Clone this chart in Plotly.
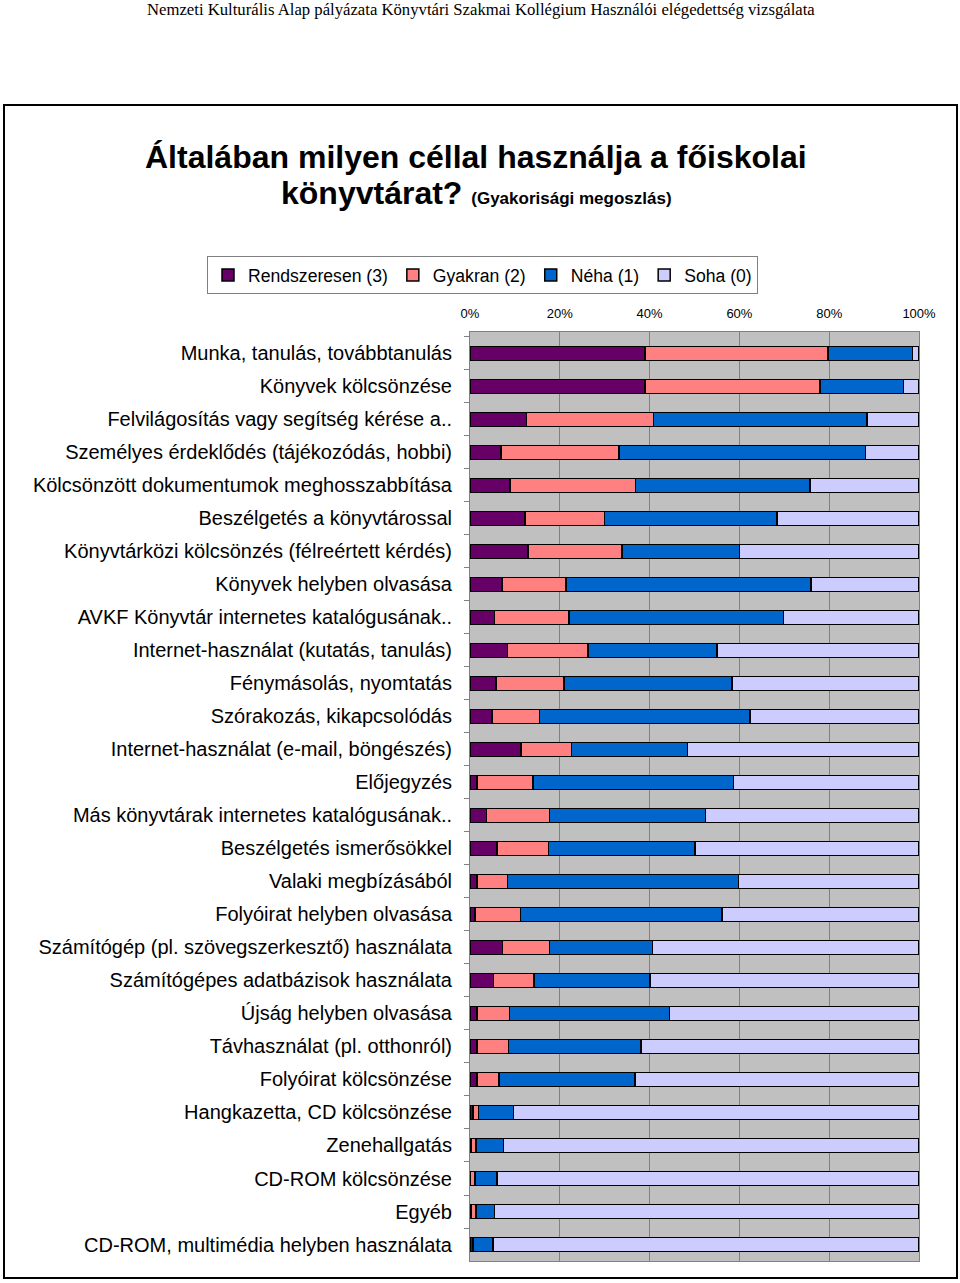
import plotly.graph_objects as go

categories = [
    "Munka, tanulás, továbbtanulás",
    "Könyvek kölcsönzése",
    "Felvilágosítás vagy segítség kérése a..",
    "Személyes érdeklődés (tájékozódás, hobbi)",
    "Kölcsönzött dokumentumok meghosszabbítása",
    "Beszélgetés a könyvtárossal",
    "Könyvtárközi kölcsönzés (félreértett kérdés)",
    "Könyvek helyben olvasása",
    "AVKF Könyvtár internetes katalógusának..",
    "Internet-használat (kutatás, tanulás)",
    "Fénymásolás, nyomtatás",
    "Szórakozás, kikapcsolódás",
    "Internet-használat (e-mail, böngészés)",
    "Előjegyzés",
    "Más könyvtárak internetes katalógusának..",
    "Beszélgetés ismerősökkel",
    "Valaki megbízásából",
    "Folyóirat helyben olvasása",
    "Számítógép (pl. szövegszerkesztő) használata",
    "Számítógépes adatbázisok használata",
    "Újság helyben olvasása",
    "Távhasználat (pl. otthonról)",
    "Folyóirat kölcsönzése",
    "Hangkazetta, CD kölcsönzése",
    "Zenehallgatás",
    "CD-ROM kölcsönzése",
    "Egyéb",
    "CD-ROM, multimédia helyben használata",
]
rendszeresen = [39.0, 39.0, 12.6, 6.9, 8.9, 12.3, 12.9, 7.1, 5.5, 8.3, 5.8, 4.9, 11.4, 1.6,
                3.7, 6.0, 1.6, 1.1, 7.2, 5.2, 1.6, 1.6, 1.6, 0.7, 0.2, 0.1, 0.2, 0.7]
gyakran = [40.7, 39.0, 28.3, 26.3, 28.0, 17.7, 20.9, 14.3, 16.5, 18.0, 15.1, 10.6, 11.2, 12.4,
           14.0, 11.5, 6.7, 10.1, 10.5, 9.1, 7.2, 7.0, 4.9, 1.2, 1.1, 1.0, 1.1, 0.0]
neha = [18.9, 18.6, 47.5, 54.9, 38.8, 38.4, 26.2, 54.6, 47.8, 28.7, 37.4, 46.9, 25.8, 44.7,
        34.7, 32.6, 51.5, 44.9, 23.0, 25.8, 35.6, 29.5, 30.2, 7.8, 6.2, 4.9, 4.2, 4.4]
soha = [1.4, 3.4, 11.6, 11.9, 24.3, 31.6, 40.0, 24.0, 30.2, 45.0, 41.7, 37.6, 51.6, 41.3,
        47.6, 49.9, 40.2, 43.9, 59.3, 59.9, 55.6, 61.9, 63.3, 90.3, 92.5, 94.0, 94.5, 94.9]

series_names = ["Rendszeresen (3)", "Gyakran (2)", "Néha (1)", "Soha (0)"]
series_colors = ["#660066", "#FF8080", "#0066CC", "#CCCCFF"]
x_ticks = [0, 20, 40, 60, 80, 100]

W, H = 960, 1283
L, R, T, B = 470, 919, 332, 1261


def px(x):
    return (x - L) / (R - L)


def py(y):
    return (B - y) / (B - T)


fig = go.Figure()
for name, vals, col in zip(series_names, [rendszeresen, gyakran, neha, soha], series_colors):
    fig.add_trace(go.Bar(
        y=categories, x=vals, name=name, orientation="h",
        marker=dict(color=col, line=dict(color="#000000", width=1.5)),
        width=0.43,
    ))

fig.update_layout(
    width=W, height=H,
    margin=dict(l=L, r=W - R, t=T, b=H - B, pad=0),
    barmode="stack", barnorm="percent",
    paper_bgcolor="white", plot_bgcolor="#C0C0C0",
    font=dict(family="Liberation Sans, Arial, sans-serif", color="#000000"),
    showlegend=True,
    legend=dict(
        orientation="h", x=px(207), y=py(256), xanchor="left", yanchor="top",
        bordercolor="#808080", borderwidth=1, bgcolor="white",
        font=dict(size=17.6, family="Liberation Sans, Arial, sans-serif"),
        traceorder="normal", itemwidth=30,
    ),
    xaxis=dict(
        side="top", range=[0, 100], tickvals=x_ticks,
        ticktext=[f"{v}%" for v in x_ticks],
        tickfont=dict(size=13), ticks="outside", ticklen=8, tickcolor="rgba(0,0,0,0)",
        showgrid=True, gridcolor="#808080", gridwidth=1,
        showline=True, linecolor="#808080", linewidth=1, mirror=True,
        zeroline=False, fixedrange=True,
    ),
    yaxis=dict(
        range=[len(categories) - 0.5, -0.65], tickfont=dict(size=20),
        ticks="outside", tickson="boundaries", ticklen=5, tickcolor="#808080",
        showline=True, linecolor="#808080", linewidth=1, mirror=True,
        showgrid=False, ticklabelstandoff=13,
    ),
)

# outer chart frame
fig.add_shape(type="rect", xref="paper", yref="paper",
              x0=px(4), x1=px(957), y0=py(1278), y1=py(105),
              line=dict(color="#000000", width=2), fillcolor="rgba(0,0,0,0)", layer="below")

# page header
fig.add_annotation(xref="paper", yref="paper", x=px(481), y=py(9), xanchor="center", yanchor="middle",
                   text="Nemzeti Kulturális Alap pályázata Könyvtári Szakmai Kollégium Használói elégedettség vizsgálata",
                   showarrow=False, font=dict(family="Liberation Serif, Times New Roman, serif", size=16.7))

# title
fig.add_annotation(xref="paper", yref="paper", x=px(476), y=py(157), xanchor="center", yanchor="middle",
                   text="<b>Általában milyen céllal használja a főiskolai</b>",
                   showarrow=False, font=dict(size=32))
fig.add_annotation(xref="paper", yref="paper", x=px(476), y=py(193), xanchor="center", yanchor="middle",
                   text="<b>könyvtárat? <span style='font-size:17px'>(Gyakorisági megoszlás)</span></b>",
                   showarrow=False, font=dict(size=32))

fig.write_html("out.html", config={"displayModeBar": False},
               post_script="document.body.style.margin='0';document.body.style.overflow='hidden';")
